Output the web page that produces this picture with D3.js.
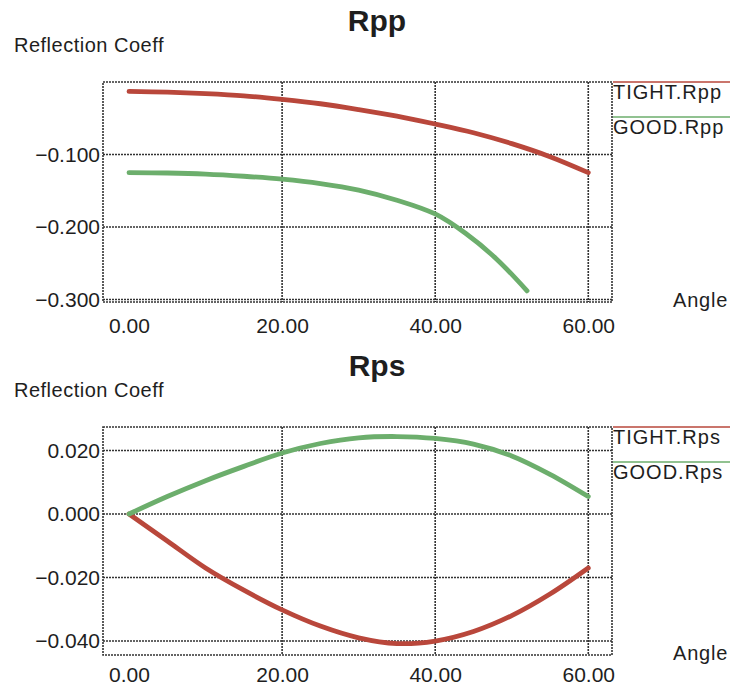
<!DOCTYPE html>
<html>
<head>
<meta charset="utf-8">
<script src="https://cdn.jsdelivr.net/npm/d3@7/dist/d3.min.js"></script>
<style>
  body { margin: 0; background: #fff; }
  text { font-family: "Liberation Sans", Arial, sans-serif; fill: #1e1e1e; }
</style>
</head>
<body>
<div id="chart"></div>
<script>
// angle samples (degrees)
const angles = [0, 5, 10, 15, 20, 25, 30, 35, 40, 45, 50, 55, 60];
const goodRppAngles = [0, 5, 10, 15, 20, 25, 30, 35, 40, 44, 48, 52];

// Rpp panel
const tightRpp = [-0.013, -0.014, -0.016, -0.019, -0.024, -0.030, -0.038, -0.047, -0.058, -0.070, -0.085, -0.103, -0.125];
const goodRpp = [-0.125, -0.1255, -0.127, -0.130, -0.134, -0.140, -0.149, -0.163, -0.182, -0.209, -0.244, -0.288];

// Rps panel
const tightRps = [0, -0.0085, -0.017, -0.024, -0.0302, -0.0353, -0.039, -0.0408, -0.0400, -0.0370, -0.0320, -0.0252, -0.0170];
const goodRps = [0, 0.0055, 0.0105, 0.0150, 0.0192, 0.0222, 0.0240, 0.0244, 0.0238, 0.0220, 0.0183, 0.0125, 0.0055];

const xTicks = [0, 20, 40, 60];
const rppTicks = [-0.1, -0.2, -0.3];
const rpsTicks = [0.02, 0, -0.02, -0.04];

const RED = "#b9473b";
const GREEN = "#6cae6c";

const svg = d3.select("#chart").append("svg")
    .attr("width", 737)
    .attr("height", 689);

function drawPanel(cfg) {
    const left = 103, right = 612;
    const top = cfg.top, bottom = cfg.bottom;

    const x = d3.scaleLinear().domain([-3.4, 63.1]).range([left, right]);
    const y = d3.scaleLinear().domain(cfg.yDomain).range([bottom, top]);

    const g = svg.append("g");

    // title + y label
    g.append("text")
        .attr("x", 377).attr("y", top - 51)
        .attr("text-anchor", "middle")
        .attr("font-size", 30).attr("font-weight", "bold")
        .text(cfg.title);
    g.append("text")
        .attr("x", 14).attr("y", top - 30)
        .attr("font-size", 20)
        .attr("letter-spacing", 0.5)
        .text("Reflection Coeff");

    const dotted = sel => sel
        .attr("stroke", "#333")
        .attr("stroke-width", 1.6)
        .attr("stroke-dasharray", "2,1")
        .attr("fill", "none");

    // grid
    g.selectAll(".vg").data(xTicks.filter(d => d > 0)).enter().append("line")
        .attr("x1", d => x(d)).attr("x2", d => x(d))
        .attr("y1", top).attr("y2", bottom)
        .call(dotted);
    g.selectAll(".hg").data(cfg.yTicks).enter().append("line")
        .attr("x1", left).attr("x2", right)
        .attr("y1", d => y(d)).attr("y2", d => y(d))
        .call(dotted);
    g.append("rect")
        .attr("x", left).attr("y", top)
        .attr("width", right - left).attr("height", bottom - top)
        .call(dotted);

    // axes (labels only)
    const ya = g.append("g")
        .attr("transform", "translate(" + left + ",0)")
        .call(d3.axisLeft(y).tickValues(cfg.yTicks).tickSize(0).tickPadding(3)
            .tickFormat(d3.format(".3f")));
    const xa = g.append("g")
        .attr("transform", "translate(0," + bottom + ")")
        .call(d3.axisBottom(x).tickValues(xTicks).tickSize(0).tickPadding(cfg.xPad)
            .tickFormat(d3.format(".2f")));
    [ya, xa].forEach(a => {
        a.select(".domain").remove();
        a.selectAll("text")
            .attr("font-size", 21)
            .attr("font-family", "'Liberation Sans', Arial, sans-serif")
            .attr("fill", "#1e1e1e");
    });

    g.append("text")
        .attr("x", 673).attr("y", bottom + 5)
        .attr("font-size", 20)
        .attr("letter-spacing", 0.8)
        .text("Angle");

    // curves
    const line = d3.line()
        .x(d => x(d[0])).y(d => y(d[1]))
        .curve(d3.curveCatmullRom);
    cfg.series.forEach(s => {
        g.append("path")
            .datum(d3.zip(s.angles, s.values))
            .attr("d", line)
            .attr("fill", "none")
            .attr("stroke", s.color)
            .attr("stroke-width", 4.8)
            .attr("stroke-linecap", "round");
    });

    // legend
    cfg.series.forEach((s, i) => {
        const ly = top + i * 35;
        g.append("line")
            .attr("x1", 613).attr("x2", 730)
            .attr("y1", ly).attr("y2", ly)
            .attr("stroke", s.color).attr("stroke-width", 1.6);
        g.append("text")
            .attr("x", 613).attr("y", ly + 17)
            .attr("font-size", 20)
            .attr("letter-spacing", 1)
            .text(s.name);
    });
}

drawPanel({
    title: "Rpp", top: 82, bottom: 302, xPad: 16,
    yDomain: [-0.3034, 0.0], yTicks: rppTicks,
    series: [
        { name: "TIGHT.Rpp", color: RED, angles: angles, values: tightRpp },
        { name: "GOOD.Rpp", color: GREEN, angles: goodRppAngles, values: goodRpp }
    ]
});

drawPanel({
    title: "Rps", top: 427, bottom: 655, xPad: 12,
    yDomain: [-0.0444, 0.0274], yTicks: rpsTicks,
    series: [
        { name: "TIGHT.Rps", color: RED, angles: angles, values: tightRps },
        { name: "GOOD.Rps", color: GREEN, angles: angles, values: goodRps }
    ]
});
</script>
</body>
</html>
